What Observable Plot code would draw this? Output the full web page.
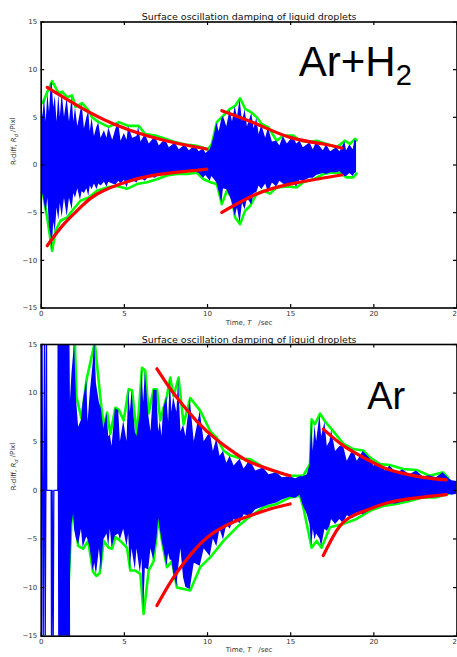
<!DOCTYPE html>
<html><head><meta charset="utf-8">
<script src="https://cdn.jsdelivr.net/npm/d3@7"></script>
<script src="https://cdn.jsdelivr.net/npm/@observablehq/plot@0.6"></script>
<style>
html,body{margin:0;padding:0;background:#fff;}
#chart svg{display:block;}
</style></head><body><div id="chart"></div>
<script>
const title = "Surface oscillation damping of liquid droplets";
const xTicks = [0, 5, 10, 15, 20, 25];
const yTicks = [-15, -10, -5, 0, 5, 10, 15];
const xLabel = "Time, T  /sec";
const yLabel = "R-diff, Rd /Pixl";
const topName = "Ar+H";
const topSub = "2";
const bottomName = "Ar";

// ---- top panel (Ar+H2): blue signal band [t, high, low]
const topBlue = [[0.0,7.2,-4.5],[0.1,5.0,-3.0],[0.2,7.0,-4.0],[0.3,4.5,-5.0],[0.4,7.5,-3.5],[0.5,5.5,-6.5],[0.6,8.5,-7.5],[0.66,8.7,-9.0],[0.75,6.0,-6.0],[0.85,7.2,-7.0],[0.95,4.5,-4.5],[1.06,7.4,-5.8],[1.15,5.0,-4.0],[1.26,7.6,-5.5],[1.4,5.0,-3.5],[1.56,7.0,-5.4],[1.7,4.5,-3.5],[1.86,7.2,-4.7],[1.96,4.5,-3.0],[2.06,6.0,-3.5],[2.2,4.0,-2.5],[2.36,5.5,-3.7],[2.46,6.4,-2.8],[2.6,3.8,-3.0],[2.75,5.0,-2.5],[2.86,5.6,-3.3],[2.95,3.5,-2.2],[3.06,4.9,-2.6],[3.2,3.0,-2.0],[3.36,4.0,-2.6],[3.46,4.4,-2.0],[3.6,2.8,-2.2],[3.8,3.6,-1.8],[3.96,2.8,-2.3],[4.06,3.9,-1.8],[4.3,2.6,-2.0],[4.5,3.8,-2.1],[4.66,4.4,-1.7],[4.8,2.5,-2.0],[5.0,3.3,-1.6],[5.16,2.6,-2.4],[5.26,4.0,-1.8],[5.5,2.8,-1.6],[5.76,3.0,-1.9],[5.86,4.0,-1.5],[6.0,2.4,-1.4],[6.26,3.2,-1.7],[6.5,2.2,-1.2],[6.86,3.0,-1.4],[7.1,2.0,-1.1],[7.46,2.7,-1.1],[7.7,1.8,-0.9],[8.06,2.3,-0.9],[8.3,1.6,-0.8],[8.66,2.1,-0.9],[8.9,1.5,-0.6],[9.26,2.0,-0.7],[9.5,1.4,-0.9],[9.76,1.7,-1.4],[9.9,1.2,-1.1],[10.16,1.6,-1.7],[10.26,2.1,-1.2],[10.4,3.0,-1.5],[10.56,4.4,-1.9],[10.7,3.5,-2.8],[10.86,4.8,-4.0],[10.96,5.1,-2.5],[11.16,4.0,-2.6],[11.36,5.8,-3.3],[11.5,4.5,-4.0],[11.66,6.1,-5.4],[11.8,5.0,-4.5],[11.96,6.9,-6.1],[12.1,4.5,-4.0],[12.26,5.8,-4.7],[12.4,4.0,-3.5],[12.66,5.4,-4.2],[12.8,3.8,-3.0],[12.96,4.9,-2.9],[13.1,3.2,-2.2],[13.26,4.2,-2.6],[13.5,2.8,-2.0],[13.66,3.9,-2.9],[13.9,2.4,-1.9],[14.16,2.5,-2.3],[14.35,2.0,-1.7],[14.56,3.0,-2.0],[14.8,2.2,-2.2],[15.16,3.0,-1.9],[15.36,2.2,-2.3],[15.56,2.5,-1.6],[15.76,1.8,-1.7],[16.16,2.3,-1.4],[16.36,1.6,-1.4],[16.56,2.4,-1.1],[16.96,1.5,-0.9],[17.16,2.1,-1.0],[17.4,1.4,-0.8],[17.76,1.8,-0.8],[17.96,1.4,-0.7],[18.26,2.4,-1.2],[18.36,1.5,-1.2],[18.56,2.1,-0.9],[18.76,1.6,-1.2],[18.86,2.6,-0.9],[18.96,2.5,-0.8]];
// green envelopes [t, value]
const topGreenUp = [[0.1,6.5],[0.35,7.6],[0.66,8.8],[1.06,7.5],[1.26,7.7],[1.56,7.1],[1.86,7.3],[2.06,6.1],[2.46,6.5],[2.86,5.7],[3.06,5.0],[3.46,4.5],[4.06,4.0],[4.66,4.5],[5.26,4.1],[5.86,4.1],[6.26,3.25],[6.86,3.1],[7.46,2.75],[8.06,2.4],[8.66,2.15],[9.26,2.05],[9.76,1.8],[10.0,1.6],[10.26,2.2],[10.56,4.5],[10.96,5.2],[11.36,5.9],[11.66,6.2],[11.96,7.0],[12.26,5.9],[12.66,5.5],[12.96,5.0],[13.26,4.3],[13.66,3.95],[14.16,2.55],[14.56,3.1],[15.16,3.1],[15.56,2.55],[16.16,2.4],[16.56,2.55],[17.16,2.2],[17.76,1.85],[18.26,2.55],[18.56,2.2],[18.86,2.75],[18.96,2.6]];
const topGreenLow = [[0.1,-3.0],[0.36,-5.5],[0.56,-7.9],[0.66,-9.0],[0.86,-6.9],[1.16,-5.85],[1.56,-5.5],[1.86,-4.8],[2.36,-3.75],[2.86,-3.4],[3.36,-2.7],[3.96,-2.35],[4.56,-2.2],[5.16,-2.5],[5.76,-2.0],[6.36,-1.8],[6.96,-1.5],[7.56,-1.1],[8.16,-0.95],[8.76,-0.95],[9.36,-0.8],[9.76,-1.5],[10.16,-1.8],[10.56,-2.0],[10.86,-4.1],[11.16,-2.7],[11.46,-3.4],[11.66,-5.5],[11.96,-6.2],[12.26,-4.8],[12.56,-4.3],[12.96,-3.0],[13.36,-2.7],[13.76,-3.0],[14.16,-2.35],[14.76,-2.25],[15.36,-2.35],[15.76,-1.8],[16.36,-1.5],[16.96,-0.95],[17.36,-0.8],[17.96,-0.8],[18.36,-1.3],[18.76,-1.3],[18.96,-0.9]];
// red decay fits [t, value]
const topRedUp1 = [[0.36,8.14],[2.36,6.05],[4.36,4.3],[6.36,3.07],[8.36,2.2],[9.96,1.68]];
const topRedLow1 = [[0.36,-8.47],[1.36,-6.2],[2.36,-4.45],[3.36,-3.04],[5.36,-1.65],[7.36,-0.94],[9.36,-0.55],[9.96,-0.42]];
const topRedUp2 = [[10.86,5.7],[12.96,4.3],[14.96,2.9],[16.96,2.2],[18.06,1.78]];
const topRedLow2 = [[10.86,-4.97],[12.96,-3.04],[14.96,-2.0],[16.96,-1.36],[18.06,-1.05]];

// ---- bottom panel (Ar)
const botSpikes = [[0.0,-6.0],[0.05,16],[0.12,-16],[0.2,16],[0.24,-16],[0.32,16],[0.33,0],[0.6,0],[0.62,-16],[0.66,0],[0.72,-16],[0.76,0],[1.0,0],[1.02,16],[1.06,-16],[1.1,16],[1.14,-16],[1.18,16],[1.22,-16],[1.26,16],[1.3,-16],[1.34,16],[1.38,-16],[1.42,16],[1.46,-16],[1.5,16],[1.54,-16],[1.58,16],[1.62,-16],[1.66,16],[1.7,-16]];
const botBlue = [[1.7,15.5,-15.5],[1.75,9,-9.2],[1.85,12,-3.5],[1.95,14,-2.4],[2.0,15.5,-4],[2.12,9.4,-5],[2.25,6.5,-5.6],[2.42,7.2,-4.0],[2.52,9.0,-5.9],[2.74,11.3,-4.8],[2.82,7.0,-5.1],[2.95,10.0,-6.0],[3.12,13.0,-8.3],[3.22,15.5,-7.5],[3.32,11.0,-8.7],[3.5,9.0,-6.0],[3.62,8.4,-8.4],[3.76,6.3,-5.1],[3.96,7.9,-4.5],[4.06,5.5,-5.8],[4.16,5.7,-4.0],[4.26,4.5,-5.9],[4.46,8.4,-4.7],[4.66,8.2,-4.5],[4.76,5.0,-5.1],[4.96,7.1,-4.0],[5.16,5.0,-5.8],[5.26,10.3,-4.5],[5.36,8.0,-8.2],[5.46,10.2,-6.0],[5.66,6.0,-8.2],[5.76,5.5,-6.0],[5.96,8.0,-8.5],[6.06,12.5,-7.0],[6.16,9.0,-12.6],[6.26,12.2,-8.0],[6.46,7.8,-8.2],[6.6,6.0,-6.0],[6.76,10.3,-7.2],[6.96,10.3,-5.0],[7.06,6.0,-2.9],[7.16,7.1,-4.0],[7.26,5.5,-5.1],[7.36,8.4,-6.0],[7.56,9.6,-7.8],[7.66,7.0,-6.5],[7.76,11.5,-7.2],[7.86,8.0,-7.2],[7.96,9.6,-8.5],[8.16,8.0,-9.9],[8.26,11.5,-8.0],[8.4,6.0,-6.0],[8.56,6.7,-9.0],[8.7,5.5,-10.0],[8.96,9.4,-10.2],[9.2,5.0,-7.5],[9.56,8.1,-7.8],[9.8,5.0,-6.0],[10.16,6.0,-6.8],[10.35,4.0,-5.0],[10.56,5.3,-5.8],[10.75,3.5,-4.0],[10.96,4.0,-5.1],[11.16,2.8,-3.5],[11.36,3.5,-4.0],[11.6,2.5,-3.0],[11.96,3.2,-3.4],[12.2,2.2,-2.5],[12.56,3.1,-2.7],[12.9,2.0,-2.0],[13.36,2.3,-1.7],[13.7,1.6,-1.5],[14.16,1.8,-1.3],[14.5,1.3,-1.0],[14.96,1.4,-0.7],[15.3,1.2,-0.8],[15.56,1.4,-0.5],[15.76,1.4,-1.6],[16.0,1.6,-2.5],[16.16,2.6,-3.5],[16.26,7.2,-5.8],[16.36,4.0,-4.0],[16.46,6.7,-5.1],[16.56,5.0,-4.5],[16.76,7.8,-5.0],[16.86,5.5,-5.8],[17.06,7.0,-4.0],[17.2,4.5,-4.2],[17.36,5.0,-3.7],[17.46,6.2,-3.0],[17.7,4.0,-3.5],[17.96,4.5,-3.0],[18.16,4.7,-3.4],[18.4,3.0,-2.6],[18.76,4.2,-2.9],[19.0,3.0,-2.3],[19.36,4.0,-2.5],[19.76,3.3,-2.1],[20.0,2.5,-1.8],[20.36,2.7,-1.7],[20.7,2.0,-1.5],[20.96,2.5,-1.4],[21.36,1.8,-1.4],[21.76,2.1,-1.2],[22.16,1.6,-1.1],[22.56,2.0,-0.9],[22.96,1.4,-0.7],[23.36,1.5,-0.8],[23.76,1.3,-0.7],[24.16,1.8,-0.6],[24.46,1.3,-0.4],[24.7,1.0,-0.5],[25.0,0.9,-0.4]];
const botGreenUp = [[2.02,15.5],[2.12,9.6],[2.42,7.4],[2.74,11.5],[3.22,15.2],[3.62,8.5],[3.76,6.5],[3.96,8.0],[4.16,5.8],[4.46,8.5],[4.66,8.3],[4.96,7.2],[5.26,10.4],[5.46,10.3],[5.76,5.6],[6.06,12.6],[6.26,12.3],[6.46,7.9],[6.76,10.4],[6.96,10.4],[7.16,7.2],[7.36,8.5],[7.56,9.7],[7.76,11.6],[7.96,9.7],[8.26,11.6],[8.56,6.8],[8.96,9.5],[9.56,8.2],[10.16,6.1],[10.56,5.4],[10.96,4.1],[11.36,3.6],[11.96,3.3],[12.56,3.2],[13.36,2.4],[14.16,1.85],[14.96,1.5],[15.76,1.5],[16.16,2.7],[16.26,7.3],[16.46,6.8],[16.76,7.9],[17.06,7.1],[17.46,6.3],[18.16,4.8],[18.76,4.25],[19.36,4.1],[19.76,3.4],[20.36,2.7],[20.96,2.6],[21.76,2.2],[22.56,2.1],[23.36,1.5],[24.16,1.85],[24.46,1.3]];
const botGreenLow = [[1.66,-9.3],[1.82,-3.1],[1.96,-2.4],[2.22,-5.7],[2.52,-6.0],[2.82,-5.2],[3.12,-8.4],[3.32,-8.8],[3.52,-8.5],[3.76,-5.2],[4.06,-5.9],[4.26,-6.0],[4.46,-4.8],[4.76,-5.2],[5.16,-5.9],[5.36,-8.25],[5.66,-8.25],[5.96,-8.6],[6.16,-12.7],[6.46,-8.25],[6.76,-7.3],[7.06,-2.8],[7.26,-5.2],[7.56,-7.9],[7.86,-7.3],[8.16,-10.0],[8.96,-10.3],[9.56,-7.9],[10.16,-6.9],[10.96,-5.2],[11.76,-3.8],[12.36,-2.94],[13.36,-1.75],[14.16,-1.4],[14.96,-0.72],[15.56,-0.55],[15.76,-1.75],[16.26,-5.9],[16.56,-5.2],[16.86,-5.9],[17.36,-3.8],[18.16,-3.45],[18.96,-2.94],[19.76,-2.1],[20.56,-1.6],[21.36,-1.4],[22.16,-1.1],[22.96,-0.72],[23.76,-0.72],[24.46,-0.37]];
const botGreenDots = [[1.64,-15],[1.64,-9.5]];
const botRedUp1 = [[6.96,12.5],[7.66,10.7],[8.36,9.1],[9.36,7.1],[10.56,5.2],[11.76,3.7],[12.56,2.9],[13.76,2.15],[14.96,1.5]];
const botRedLow1 = [[6.96,-11.85],[7.96,-8.94],[9.36,-5.86],[10.56,-4.14],[11.76,-3.11],[12.56,-2.6],[13.76,-1.91],[14.96,-1.4]];
const botRedUp2 = [[16.96,6.3],[18.16,4.6],[19.36,3.4],[20.56,2.36],[21.76,1.75],[22.96,1.34],[24.36,1.07]];
const botRedLow2 = [[16.96,-6.7],[17.76,-4.14],[18.56,-2.77],[19.76,-1.91],[20.96,-1.23],[22.56,-0.78],[24.36,-0.44]];

const BLUE = "#0000ff", GREEN = "#00ff00", RED = "#ff0000";
const FONT = "DejaVu Sans, sans-serif";
const W = 457, ML = 40.7, MR = 0.5;

function panel(o) {
  const plotH = o.height - o.marginTop - o.marginBottom;
  const plotW = W - ML - MR;
  const ky = 3.5 * 30 / plotH;
  const kx = 3.5 * 25 / plotW;
  const X = d => d[0], Y = d => d[1];
  const marks = [];
  for (const g of o.greens) marks.push(Plot.line(g, {x: X, y: Y, stroke: GREEN, strokeWidth: 2.6, strokeLinejoin: "round", clip: true}));
  if (o.greenDots) marks.push(Plot.line(o.greenDots, {x: X, y: Y, stroke: GREEN, strokeWidth: 2, strokeDasharray: "1.5,5", clip: true}));
  if (o.spikes) marks.push(Plot.line(o.spikes, {x: X, y: Y, stroke: BLUE, strokeWidth: 1.3, clip: true}));
  marks.push(Plot.areaY(o.blue, {x: X, y1: d => d[2], y2: d => d[1], fill: BLUE, clip: true}));
  for (const r of o.reds) marks.push(Plot.line(r, {x: X, y: Y, stroke: RED, strokeWidth: 3.2, curve: "natural", clip: true}));
  marks.push(
    Plot.frame({stroke: "#000", strokeWidth: 1.6}),
    Plot.ruleX(xTicks, {x: d => d, y1: -15, y2: -15 + ky, stroke: "#000", strokeWidth: 1.2}),
    Plot.ruleX(xTicks, {x: d => d, y1: 15 - ky, y2: 15, stroke: "#000", strokeWidth: 1.2}),
    Plot.ruleY(yTicks, {y: d => d, x1: 0, x2: kx, stroke: "#000", strokeWidth: 1.2}),
    Plot.ruleY(yTicks, {y: d => d, x1: 25 - kx, x2: 25, stroke: "#000", strokeWidth: 1.2}),
    Plot.axisX({ticks: xTicks, tickSize: 0, tickPadding: 3, fontSize: 7, label: null, fill: "#333"}),
    Plot.axisY({ticks: yTicks, tickSize: 0, tickPadding: 4, fontSize: 7, label: null, fill: "#333"}),
    Plot.text([title], {text: d => d, frameAnchor: "top", dy: o.titleDy, fontSize: 9.5, fill: "#111"}),
    Plot.text([xLabel], {text: d => d, frameAnchor: "bottom", dy: o.xLabelDy, fontSize: 7, fill: "#333"}),
    Plot.text([yLabel], {text: d => d, frameAnchor: "left", dx: -27.7, rotate: -90, fontSize: 7, fill: "#333"})
  );
  for (const a of o.names) marks.push(Plot.text([a.text], {text: d => d, frameAnchor: "top-left", textAnchor: "start", lineAnchor: "bottom", dx: a.dx, dy: a.dy, fontSize: a.size, fontFamily: "Liberation Sans, Arial, sans-serif", fill: "#000"}));
  const svg = Plot.plot({
    width: W, height: o.height,
    marginLeft: ML, marginRight: MR, marginTop: o.marginTop, marginBottom: o.marginBottom,
    x: {domain: [0, 25]}, y: {domain: [-15, 15]},
    style: {fontFamily: FONT, fontSize: "7px", background: "white", overflow: "visible"},
    marks
  });
  d3.select(svg).selectAll("text").each(function() {
    const t = d3.select(this);
    if (this.textContent === xLabel && this.childNodes.length <= 1) {
      t.text(null);
      t.append("tspan").text("Time, ");
      t.append("tspan").attr("font-style", "italic").text("T");
      t.append("tspan").text("\u00a0\u00a0\u00a0/sec");
    } else if (this.textContent === yLabel && this.childNodes.length <= 1) {
      t.text(null);
      t.append("tspan").text("R-diff, ");
      t.append("tspan").attr("font-style", "italic").text("R");
      t.append("tspan").attr("font-style", "italic").attr("font-size", "5px").attr("dy", "0.35em").text("d");
      t.append("tspan").attr("dy", "-0.35em").text("\u00a0/Pixl");
    }
  });
  return svg;
}

const chart = document.getElementById("chart");
chart.append(panel({
  height: 330, marginTop: 21.5, marginBottom: 22.5, titleDy: -9, xLabelDy: 16.5,
  blue: topBlue, greens: [topGreenUp, topGreenLow], reds: [topRedUp1, topRedLow1, topRedUp2, topRedLow2],
  names: [{text: topName, dx: 257.5, dy: 54.2, size: 42}, {text: topSub, dx: 354.5, dy: 62.5, size: 29}]
}));
chart.append(panel({
  height: 327, marginTop: 14, marginBottom: 21.3, titleDy: -8.5, xLabelDy: 15.3,
  blue: botBlue, spikes: botSpikes, greenDots: botGreenDots, greens: [botGreenUp, botGreenLow],
  reds: [botRedUp1, botRedLow1, botRedUp2, botRedLow2],
  names: [{text: bottomName, dx: 326, dy: 64.3, size: 38}]
}));
</script></body></html>
